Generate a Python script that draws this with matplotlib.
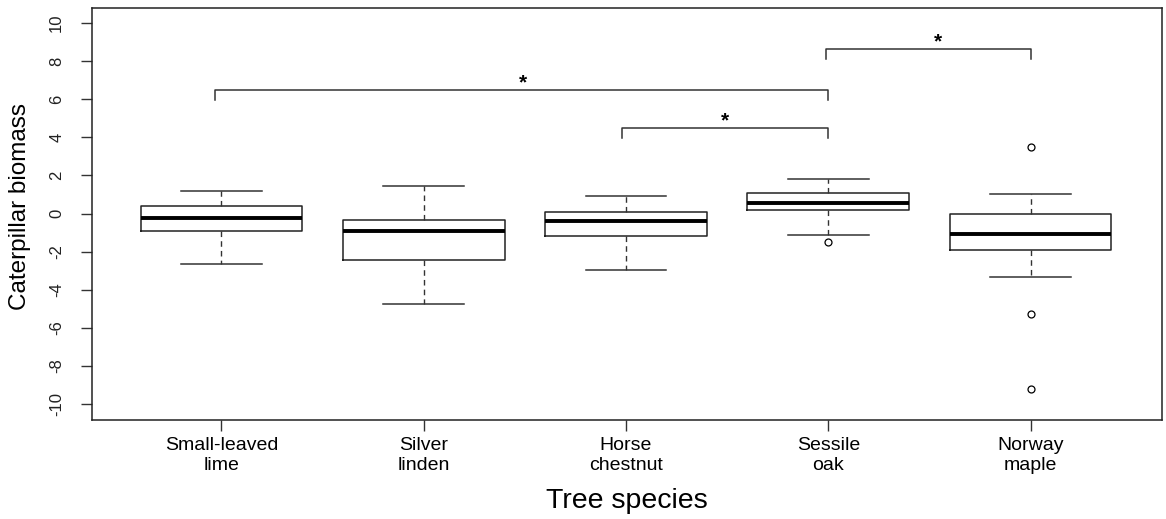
import numpy as np
import matplotlib
matplotlib.use("Agg")
import matplotlib.pyplot as plt

plt.rcParams['font.family'] = ['Liberation Sans', 'DejaVu Sans']

# box statistics
species = ["Small-leaved\nlime", "Silver\nlinden", "Horse\nchestnut", "Sessile\noak", "Norway\nmaple"]
whisker_lo = [-2.63, -4.75, -2.97, -1.13, -3.33]
q1 = [-0.92, -2.42, -1.16, 0.18, -1.92]
median = [-0.25, -0.92, -0.41, 0.54, -1.06]
q3 = [0.39, -0.36, 0.09, 1.09, -0.04]
whisker_hi = [1.20, 1.46, 0.92, 1.79, 1.01]
outliers = [[], [], [], [-1.51], [3.47, -5.29, -9.23]]

# significance brackets
br_left = [0.97, 2.98, 3.99]
br_right = [4.0, 4.0, 5.0]
br_y = [6.47, 4.47, 8.62]
star_x = [2.49, 3.49, 4.54]
yticks = [-10, -8, -6, -4, -2, 0, 2, 4, 6, 8, 10]

fig = plt.figure(figsize=(11.66, 5.19), dpi=100)
ax = fig.add_axes([92/1166, 1 - 420/519, (1162-92)/1166, (420-8)/519])

stats = []
for i in range(len(species)):
    stats.append(dict(med=median[i], q1=q1[i], q3=q3[i],
                      whislo=whisker_lo[i], whishi=whisker_hi[i],
                      fliers=outliers[i], label=species[i]))

pos = np.arange(1, len(species) + 1)
ax.bxp(stats, positions=pos, widths=0.8, patch_artist=False,
       boxprops=dict(color='#222222', linewidth=1.1),
       medianprops=dict(color='black', linewidth=2.8, solid_capstyle='butt'),
       whiskerprops=dict(color='#333333', linewidth=1.0, linestyle=(0, (4, 3))),
       capprops=dict(color='#333333', linewidth=1.1),
       capwidths=0.4,
       flierprops=dict(marker='o', markerfacecolor='white', markeredgecolor='black',
                       markersize=5, markeredgewidth=0.9))

for l, r, y, sx in zip(br_left, br_right, br_y, star_x):
    ax.plot([l, l, r, r], [y - 0.5, y, y, y - 0.5], color='#333333', linewidth=1.1)
    ax.text(sx, y + 0.4, "*", ha='center', va='center', fontsize=15, fontweight='bold')

ax.set_xlim(0.36, 5.65)
ax.set_ylim(-10.84, 10.79)
ax.set_yticks(yticks)
ax.set_yticklabels([str(t) for t in yticks], rotation=90, va='center', fontsize=12, color='#222222')
ax.set_xticks(pos)
ax.set_xticklabels(species, fontsize=14, linespacing=1.25)
ax.tick_params(axis='y', length=8, width=1, color='#333333', pad=12)
ax.tick_params(axis='x', length=8, width=1, color='#333333', pad=4)
for s in ax.spines.values():
    s.set_linewidth(1.1)
    s.set_color('#222222')

ax.set_xlabel("Tree species", fontsize=20.5, labelpad=10)
ax.set_ylabel("Caterpillar biomass", fontsize=17.5, va='center')
ax.yaxis.set_label_coords(-0.0673, 0.519)

fig.savefig("out.png", dpi=100)
